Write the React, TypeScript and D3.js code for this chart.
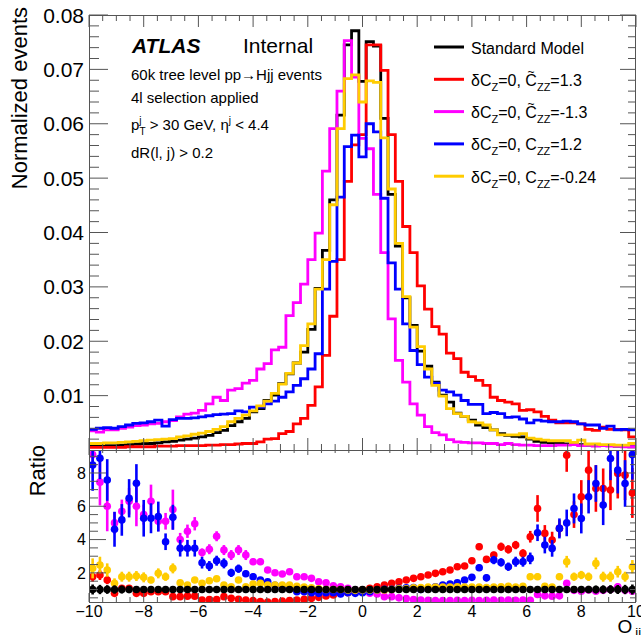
import React from 'react';
import * as d3 from 'd3';

const W = 641, H = 635;
const X0 = 89, X1 = 636;
const TOP_Y0 = 15, TOP_Y1 = 450;
const RAT_Y0 = 450, RAT_Y1 = 602;
const X_MIN = -10, X_MAX = 10, N_BINS = 75;

const colors = { sm: '#000000', red: '#ff0000', magenta: '#ff00ff', blue: '#0000ff', yellow: '#ffcc00' };

const smHist = [0.0007,0.0007,0.0008,0.0008,0.0009,0.0010,0.0011,0.0012,0.0012,0.0013,
 0.0015,0.0016,0.0018,0.0020,0.0022,0.0024,0.0027,0.0032,0.0036,0.0045,
 0.0052,0.0058,0.0070,0.0076,0.0091,0.0101,0.0122,0.0140,0.0160,0.0180,
 0.0222,0.0297,0.0367,0.0460,0.0616,0.0745,0.0771,0.0678,0.0751,0.0743,
 0.0610,0.0470,0.0375,0.0280,0.0229,0.0182,0.0154,0.0125,0.0101,0.0088,
 0.0068,0.0062,0.0055,0.0046,0.0041,0.0037,0.0030,0.0027,0.0025,0.0024,
 0.0020,0.0016,0.0014,0.0013,0.0012,0.0011,0.0010,0.0010,0.0009,0.0009,
 0.0008,0.0008,0.0007,0.0007,0.0006];
const redHist = [0.0005,0.0005,0.0005,0.0005,0.0005,0.0006,0.0006,0.0006,0.0006,0.0007,
 0.0007,0.0007,0.0008,0.0008,0.0008,0.0008,0.0009,0.0009,0.0010,0.0010,
 0.0011,0.0012,0.0012,0.0015,0.0020,0.0021,0.0030,0.0034,0.0048,0.0058,
 0.0082,0.0116,0.0174,0.0246,0.0350,0.0494,0.0561,0.0580,0.0745,0.0745,
 0.0698,0.0580,0.0494,0.0411,0.0363,0.0302,0.0259,0.0227,0.0213,0.0178,
 0.0168,0.0143,0.0135,0.0128,0.0119,0.0097,0.0091,0.0088,0.0085,0.0073,
 0.0074,0.0070,0.0062,0.0055,0.0050,0.0050,0.0050,0.0048,0.0038,0.0036,
 0.0042,0.0038,0.0038,0.0037,0.0024];
const magentaHist = [0.0035,0.0033,0.0037,0.0037,0.0040,0.0042,0.0045,0.0046,0.0048,0.0049,
 0.0052,0.0054,0.0061,0.0066,0.0068,0.0073,0.0085,0.0097,0.0091,0.0110,
 0.0113,0.0123,0.0128,0.0149,0.0159,0.0184,0.0189,0.0247,0.0271,0.0305,
 0.0350,0.0399,0.0513,0.0591,0.0660,0.0753,0.0686,0.0573,0.0554,0.0470,
 0.0363,0.0241,0.0165,0.0125,0.0085,0.0064,0.0043,0.0032,0.0028,0.0019,
 0.0015,0.0014,0.0013,0.0013,0.0012,0.0012,0.0010,0.0012,0.0010,0.0009,
 0.0009,0.0008,0.0008,0.0008,0.0009,0.0009,0.0010,0.0008,0.0009,0.0007,
 0.0008,0.0007,0.0007,0.0006,0.0006];
const blueHist = [0.0038,0.0040,0.0041,0.0040,0.0043,0.0046,0.0049,0.0050,0.0052,0.0055,
 0.0044,0.0056,0.0058,0.0058,0.0059,0.0061,0.0063,0.0065,0.0066,0.0067,
 0.0072,0.0070,0.0079,0.0079,0.0085,0.0090,0.0097,0.0107,0.0119,0.0131,
 0.0149,0.0177,0.0296,0.0347,0.0465,0.0558,0.0579,0.0539,0.0600,0.0585,
 0.0463,0.0344,0.0296,0.0232,0.0183,0.0157,0.0134,0.0123,0.0110,0.0107,
 0.0101,0.0091,0.0084,0.0084,0.0067,0.0069,0.0067,0.0060,0.0061,0.0057,
 0.0050,0.0055,0.0053,0.0052,0.0052,0.0053,0.0052,0.0048,0.0046,0.0046,
 0.0040,0.0044,0.0037,0.0038,0.0037];
const yellowHist = [0.0012,0.0012,0.0013,0.0013,0.0014,0.0015,0.0016,0.0017,0.0018,0.0019,
 0.0020,0.0021,0.0024,0.0026,0.0029,0.0031,0.0034,0.0038,0.0043,0.0052,
 0.0058,0.0064,0.0072,0.0081,0.0090,0.0104,0.0121,0.0141,0.0160,0.0192,
 0.0232,0.0296,0.0350,0.0451,0.0591,0.0683,0.0690,0.0640,0.0679,0.0676,
 0.0574,0.0480,0.0380,0.0282,0.0226,0.0190,0.0149,0.0119,0.0099,0.0076,
 0.0067,0.0062,0.0052,0.0050,0.0046,0.0037,0.0028,0.0028,0.0028,0.0030,
 0.0022,0.0020,0.0018,0.0017,0.0017,0.0017,0.0014,0.0018,0.0011,0.0011,
 0.0010,0.0010,0.0009,0.0009,0.0012];

const smRatio = [1,1,1,1,1,1,1,1,1,1,1,1,1,1,1,1,1,1,1,1,1,1,1,1,1,1,1,1,1,1,1,1,1,1,1,1,1,1,
 1,1,1,1,1,1,1,1,1,1,1,1,1,1,1,1,1,1,1,1,1,1,1,1,1,1,1,1,1,1,1,1,1,1,1,1,1];
const smRatioErr = [0.3,0.28,0.26,0.25,0.24,0.22,0.2,0.19,0.18,0.17,
 0.16,0.15,0.14,0.13,0.12,0.11,0.1,0.09,0.08,0.07,
 0.06,0.06,0.05,0.05,0.04,0.04,0.04,0.03,0.03,0.03,
 0.02,0.02,0.02,0.02,0.02,0.02,0.02,0.02,0.02,0.02,
 0.02,0.02,0.02,0.02,0.03,0.03,0.03,0.04,0.04,0.04,
 0.05,0.05,0.06,0.06,0.07,0.08,0.09,0.1,0.11,0.12,
 0.13,0.14,0.15,0.16,0.17,0.18,0.19,0.2,0.22,0.24,
 0.25,0.26,0.27,0.28,0.3];
const redRatio = [1.77,1.87,1.57,0.77,1.07,1.07,0.77,0.77,0.87,0.87,
 0.87,0.57,0.57,0.60,0.60,0.37,0.40,0.40,0.57,0.47,
 0.41,0.37,0.33,0.27,0.25,0.27,0.31,0.33,0.37,0.41,
 0.47,0.53,0.61,0.67,0.77,0.81,0.87,0.97,1.07,1.17,
 1.27,1.37,1.47,1.57,1.67,1.77,1.87,1.97,2.07,2.17,
 2.37,2.41,2.73,3.57,2.81,3.07,3.57,3.41,3.67,3.17,
 4.17,5.87,4.37,3.97,4.67,9.07,5.50,6.57,8.17,7.07,
 7.07,6.97,7.97,7.87,6.80];
const redRatioErr = [0.3,0.3,0.25,0.15,0.2,0.2,0.15,0.15,0.15,0.15,
 0.12,0.1,0.08,0.08,0.08,0.06,0.05,0.05,0.05,0.04,
 0.04,0.03,0.03,0.03,0.03,0.03,0.03,0.03,0.03,0.03,
 0.03,0.03,0.03,0.03,0.03,0.03,0.03,0.03,0.03,0.03,
 0.03,0.03,0.04,0.05,0.05,0.06,0.06,0.07,0.08,0.08,
 0.1,0.1,0.12,0.2,0.15,0.2,0.25,0.25,0.25,0.25,
 0.35,0.8,0.5,0.5,0.5,1.0,0.8,1.0,1.5,1.4,
 1.2,1.2,1.5,1.5,1.5];
const magentaRatio = [9.10,7.45,6.00,5.00,5.70,6.30,6.00,5.50,6.30,5.10,
 5.10,5.80,4.00,4.50,4.95,3.22,3.42,4.20,3.37,3.07,
 3.37,3.07,2.67,2.67,2.17,2.01,1.93,2.07,1.77,1.77,
 1.67,1.47,1.41,1.23,1.17,1.07,0.97,0.87,0.78,0.73,
 0.57,0.57,0.50,0.45,0.40,0.37,0.35,0.33,0.33,0.33,
 0.35,0.33,0.35,0.33,0.35,0.37,0.35,0.37,0.35,0.37,
 0.35,0.70,0.62,0.60,0.62,1.37,0.95,0.90,0.97,0.90,
 0.95,1.00,1.17,0.95,0.90];
const magentaRatioErr = [0.4,1.4,1.5,0.65,0.7,0.8,1.2,0.6,1.0,0.6,
 0.5,1.2,0.4,0.4,0.4,0.25,0.3,0.3,0.3,0.3,
 0.3,0.3,0.2,0.2,0.15,0.12,0.1,0.1,0.08,0.07,
 0.06,0.05,0.04,0.03,0.03,0.03,0.03,0.03,0.03,0.03,
 0.03,0.03,0.03,0.03,0.03,0.03,0.03,0.03,0.03,0.03,
 0.03,0.03,0.03,0.04,0.04,0.04,0.05,0.05,0.05,0.06,
 0.06,0.1,0.1,0.1,0.1,0.2,0.15,0.15,0.15,0.15,
 0.15,0.15,0.2,0.15,0.15];
const blueRatio = [8.48,8.88,7.58,4.62,5.18,6.48,7.38,5.28,5.28,5.38,
 3.87,5.34,3.48,3.48,3.48,2.61,2.41,2.73,2.57,2.00,
 2.25,1.95,1.77,1.57,1.47,1.25,1.17,1.07,0.87,0.87,
 0.81,0.77,0.81,0.81,0.73,0.81,0.77,0.81,0.87,0.97,
 1.01,1.01,1.07,1.10,1.12,1.00,1.05,1.17,1.27,1.33,
 1.41,1.57,1.73,2.31,1.70,2.77,2.63,2.37,2.67,2.67,
 2.87,4.41,3.67,3.47,4.67,5.00,5.87,5.27,6.57,7.37,
 6.07,8.87,8.17,7.37,9.10];
const blueRatioErr = [1.55,1.25,1.25,1.05,0.95,1.15,1.15,1.1,0.9,0.9,
 0.5,0.75,0.5,0.5,0.5,0.35,0.3,0.3,0.3,0.25,
 0.25,0.2,0.2,0.15,0.15,0.1,0.1,0.08,0.06,0.05,
 0.05,0.04,0.03,0.03,0.03,0.03,0.03,0.03,0.03,0.03,
 0.03,0.04,0.04,0.05,0.05,0.06,0.07,0.08,0.1,0.1,
 0.12,0.15,0.15,0.2,0.2,0.25,0.25,0.25,0.3,0.3,
 0.35,0.5,0.5,0.5,0.6,0.8,0.9,0.9,1.0,1.1,
 1.2,1.3,1.4,1.4,1.5];
const yellowRatio = [2.27,2.47,2.17,1.37,1.77,1.77,1.81,1.73,1.57,1.97,
 1.77,2.27,1.41,1.27,1.57,1.37,1.53,1.65,1.27,1.17,
 1.57,1.17,1.33,1.37,1.27,1.27,1.27,1.27,1.20,1.15,
 1.10,1.05,1.00,1.00,1.00,0.97,0.95,0.97,0.97,0.97,
 0.97,1.00,1.05,1.05,1.10,1.12,1.15,1.15,1.15,1.15,
 1.17,1.15,1.15,1.15,1.12,1.15,1.17,1.20,1.15,1.20,
 1.77,1.77,1.20,1.15,1.77,2.67,1.77,1.87,1.77,2.57,
 1.77,1.77,2.07,1.77,2.37];
const yellowRatioErr = [0.6,0.5,0.4,0.3,0.3,0.3,0.3,0.3,0.2,0.3,
 0.25,0.3,0.15,0.15,0.15,0.12,0.12,0.12,0.1,0.1,
 0.1,0.08,0.08,0.07,0.06,0.05,0.05,0.04,0.04,0.03,
 0.03,0.03,0.03,0.03,0.03,0.03,0.03,0.03,0.03,0.03,
 0.03,0.03,0.03,0.03,0.04,0.04,0.05,0.05,0.06,0.06,
 0.07,0.08,0.08,0.09,0.1,0.1,0.1,0.12,0.12,0.12,
 0.2,0.2,0.15,0.15,0.2,0.35,0.25,0.25,0.25,0.35,
 0.3,0.3,0.35,0.3,0.4];

const topYTicks = [0.01, 0.02, 0.03, 0.04, 0.05, 0.06, 0.07, 0.08];
const topYLabels = ['0.01', '0.02', '0.03', '0.04', '0.05', '0.06', '0.07', '0.08'];
const ratioYTicks = [2, 4, 6, 8];
const xTicks = [-10, -8, -6, -4, -2, 0, 2, 4, 6, 8, 10];
const xLabels = ['\u221210', '\u22128', '\u22126', '\u22124', '\u22122', '0', '2', '4', '6', '8', '10'];

const FONT = "'Liberation Sans', Arial, Helvetica, sans-serif";
const AX = '#555';

export default function App() {
  const x = d3.scaleLinear().domain([X_MIN, X_MAX]).range([X0, X1]);
  const yTop = d3.scaleLinear().domain([0, 0.08]).range([TOP_Y1, TOP_Y0]);
  const yRat = d3.scaleLinear().domain([0.25, 9.38]).range([RAT_Y1, RAT_Y0]);
  const edges = d3.range(N_BINS + 1).map(i => X_MIN + (i * (X_MAX - X_MIN)) / N_BINS);
  const centers = d3.range(N_BINS).map(i => (edges[i] + edges[i + 1]) / 2);

  const step = (vals: number[]) => {
    const pts: [number, number][] = vals.map((v, i) => [edges[i], v]);
    pts.push([edges[N_BINS], vals[N_BINS - 1]]);
    return d3.line<[number, number]>().x(d => x(d[0])).y(d => yTop(d[1])).curve(d3.curveStepAfter)(pts) || '';
  };

  const hists = [
    { v: smHist, c: colors.sm },
    { v: redHist, c: colors.red },
    { v: magentaHist, c: colors.magenta },
    { v: blueHist, c: colors.blue },
    { v: yellowHist, c: colors.yellow },
  ];
  const ratios = [
    { v: redRatio, e: redRatioErr, c: colors.red },
    { v: magentaRatio, e: magentaRatioErr, c: colors.magenta },
    { v: blueRatio, e: blueRatioErr, c: colors.blue },
    { v: yellowRatio, e: yellowRatioErr, c: colors.yellow },
    { v: smRatio, e: smRatioErr, c: colors.sm },
  ];

  const near = (a: number, b: number) => Math.abs(a - b) < 1e-6;
  const xMinor = d3.range(-10, 10.0001, 0.5).filter(t => !xTicks.some(m => near(m, t)));
  const topYMinor = d3.range(0.002, 0.0801, 0.002).filter(t => !topYTicks.some(m => near(m, t)));
  const ratYMinor = d3.range(0.5, 9.3, 0.5).filter(t => !ratioYTicks.some(m => near(m, t)));

  const legend = [
    { c: colors.sm, y: 47 },
    { c: colors.red, y: 79.3 },
    { c: colors.magenta, y: 111.6 },
    { c: colors.blue, y: 143.9 },
    { c: colors.yellow, y: 176.2 },
  ];

  const tline = (key: string, x1: number, y1: number, x2: number, y2: number) => (
    <line key={key} x1={x1} y1={y1} x2={x2} y2={y2} stroke={AX} strokeWidth={1} />
  );

  return (
    <svg width={W} height={H} style={{ position: 'absolute', left: 0, top: 0, background: '#fff' }} fontFamily={FONT}>
      <defs>
        <clipPath id="clipTop"><rect x={X0} y={TOP_Y0} width={X1 - X0} height={TOP_Y1 - TOP_Y0} /></clipPath>
        <clipPath id="clipRat"><rect x={X0} y={RAT_Y0} width={X1 - X0} height={RAT_Y1 - RAT_Y0} /></clipPath>
      </defs>
      <rect x={0} y={0} width={W} height={H} fill="#fff" />

      <g clipPath="url(#clipTop)">
        {hists.map((h, i) => (
          <path key={i} d={step(h.v)} fill="none" stroke={h.c} strokeWidth={2.8} />
        ))}
      </g>

      <g clipPath="url(#clipRat)">
        {ratios.map((r, k) => (
          <g key={k}>
            {r.v.map((v, i) => (
              <line key={'e' + i} x1={x(centers[i])} x2={x(centers[i])} y1={yRat(v - r.e[i])} y2={yRat(v + r.e[i])} stroke={r.c} strokeWidth={2.6} />
            ))}
            {r.v.map((v, i) => (
              <circle key={'m' + i} cx={x(centers[i])} cy={yRat(v)} r={3.8} fill={r.c} />
            ))}
          </g>
        ))}
      </g>

      <rect x={X0 + 0.5} y={TOP_Y0 + 0.5} width={X1 - X0 - 1} height={TOP_Y1 - TOP_Y0} fill="none" stroke={AX} strokeWidth={1} />
      <rect x={X0 + 0.5} y={RAT_Y0 + 0.5} width={X1 - X0 - 1} height={RAT_Y1 - RAT_Y0} fill="none" stroke={AX} strokeWidth={1} />

      {xTicks.map(t => tline('tt' + t, x(t), TOP_Y0, x(t), TOP_Y0 + 12))}
      {xMinor.map(t => tline('tm' + t, x(t), TOP_Y0, x(t), TOP_Y0 + 6))}
      {xTicks.map(t => tline('tb' + t, x(t), TOP_Y1, x(t), TOP_Y1 - 12))}
      {xMinor.map(t => tline('tbm' + t, x(t), TOP_Y1, x(t), TOP_Y1 - 6))}
      {topYTicks.map(t => tline('yl' + t, X0, yTop(t), X0 + 19, yTop(t)))}
      {topYMinor.map(t => tline('ylm' + t, X0, yTop(t), X0 + 10, yTop(t)))}
      {topYTicks.map(t => tline('yr' + t, X1, yTop(t), X1 - 16, yTop(t)))}
      {topYMinor.map(t => tline('yrm' + t, X1, yTop(t), X1 - 8, yTop(t)))}
      {xTicks.map(t => tline('rt' + t, x(t), RAT_Y0, x(t), RAT_Y0 + 5))}
      {xMinor.map(t => tline('rtm' + t, x(t), RAT_Y0, x(t), RAT_Y0 + 3))}
      {xTicks.map(t => tline('rb' + t, x(t), RAT_Y1, x(t), RAT_Y1 - 9))}
      {xMinor.map(t => tline('rbm' + t, x(t), RAT_Y1, x(t), RAT_Y1 - 5))}
      {ratioYTicks.map(t => tline('ryl' + t, X0, yRat(t), X0 + 17, yRat(t)))}
      {ratYMinor.map(t => tline('rylm' + t, X0, yRat(t), X0 + 9, yRat(t)))}
      {ratioYTicks.map(t => tline('ryr' + t, X1, yRat(t), X1 - 10, yRat(t)))}
      {ratYMinor.map(t => tline('ryrm' + t, X1, yRat(t), X1 - 6, yRat(t)))}

      {topYTicks.map((t, i) => (
        <text key={'tyl' + i} x={84} y={yTop(t) + 7.5} fontSize={21} textAnchor="end" fill="#000">{topYLabels[i]}</text>
      ))}
      {ratioYTicks.map(t => (
        <text key={'ryl' + t} x={86} y={yRat(t) + 5.8} fontSize={16} textAnchor="end" fill="#000">{String(t)}</text>
      ))}
      {xTicks.map((t, i) => (
        <text key={'xl' + i} x={x(t)} y={617} fontSize={16} textAnchor="middle" fill="#000">{xLabels[i]}</text>
      ))}

      <text transform="translate(27,7) rotate(-90)" fontSize={22} textAnchor="end" fill="#000">Normalized events</text>
      <text transform="translate(45,445) rotate(-90)" fontSize={22} textAnchor="end" fill="#000">Ratio</text>
      <text x={617.5} y={633} fontSize={19} fill="#000">O<tspan fontSize={13} dx={3} dy={4}>jj</tspan></text>

      <text x={132} y={53} fontSize={21} fontWeight="bold" fontStyle="italic" fill="#000">ATLAS</text>
      <text x={243} y={53} fontSize={21} fill="#000">Internal</text>
      <text x={131} y={80} fontSize={15} fill="#000">60k tree level pp{'\u2192'}Hjj events</text>
      <text x={131} y={103} fontSize={15} fill="#000">4l selection applied</text>
      <text x={131} y={130} fontSize={15} fill="#000">
        p<tspan fontSize={10} dy={-6}>j</tspan><tspan fontSize={10} dx={-2.2} dy={11}>T</tspan>
        <tspan dy={-5}> &gt; 30 GeV, {'\u03b7'}</tspan><tspan fontSize={10} dy={-6}>j</tspan><tspan dy={6}> &lt; 4.4</tspan>
      </text>
      <text x={131} y={158} fontSize={15} fill="#000">dR(l, j) &gt; 0.2</text>

      {legend.map((l, i) => (
        <line key={'lg' + i} x1={434} x2={464} y1={l.y} y2={l.y} stroke={l.c} strokeWidth={3} />
      ))}
      <text x={471} y={legend[0].y + 6.5} fontSize={16} fill="#000">Standard Model</text>
      <text x={471} y={legend[1].y + 6.5} fontSize={16} fill="#000">
        {'\u03b4'}C<tspan fontSize={11} dy={5}>Z</tspan><tspan dy={-5}>=0, C</tspan><tspan fontSize={12} dx={-9.3} dy={-10}>~</tspan><tspan fontSize={11} dx={2.3} dy={15}>ZZ</tspan><tspan dy={-5}>=1.3</tspan>
      </text>
      <text x={471} y={legend[2].y + 6.5} fontSize={16} fill="#000">
        {'\u03b4'}C<tspan fontSize={11} dy={5}>Z</tspan><tspan dy={-5}>=0, C</tspan><tspan fontSize={12} dx={-9.3} dy={-10}>~</tspan><tspan fontSize={11} dx={2.3} dy={15}>ZZ</tspan><tspan dy={-5}>=-1.3</tspan>
      </text>
      <text x={471} y={legend[3].y + 6.5} fontSize={16} fill="#000">
        {'\u03b4'}C<tspan fontSize={11} dy={5}>Z</tspan><tspan dy={-5}>=0, C</tspan><tspan fontSize={11} dy={5}>ZZ</tspan><tspan dy={-5}>=1.2</tspan>
      </text>
      <text x={471} y={legend[4].y + 6.5} fontSize={16} fill="#000">
        {'\u03b4'}C<tspan fontSize={11} dy={5}>Z</tspan><tspan dy={-5}>=0, C</tspan><tspan fontSize={11} dy={5}>ZZ</tspan><tspan dy={-5}>=-0.24</tspan>
      </text>
    </svg>
  );
}
